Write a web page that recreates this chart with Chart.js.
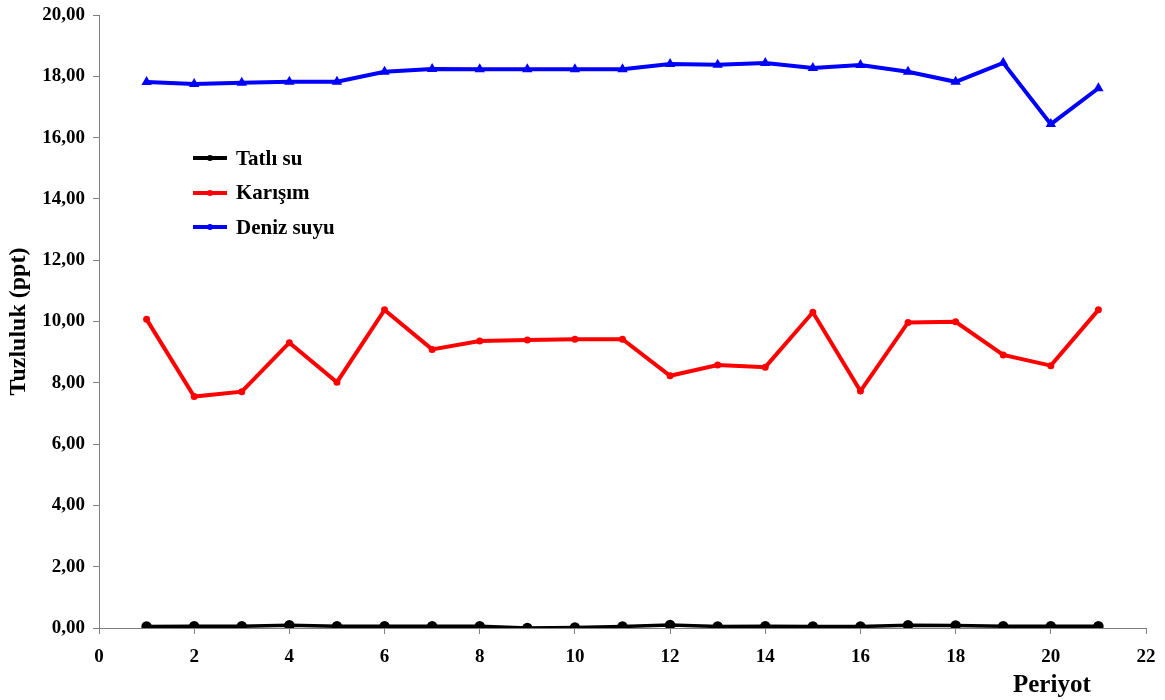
<!DOCTYPE html>
<html>
<head>
<meta charset="utf-8">
<script src="https://cdn.jsdelivr.net/npm/chart.js@4/dist/chart.umd.min.js"></script>
<style>
  html, body { margin: 0; padding: 0; background: #fff; }
  #wrap { position: relative; width: 1165px; height: 700px; }
  canvas { position: absolute; left: 0; top: 0; }
  #legend { position: absolute; left: 193px; top: 141px; font-family: "Liberation Serif", serif; font-weight: bold; font-size: 21px; color: #000; }
  #legend .item { display: flex; align-items: center; height: 34.5px; }
  #legend .sw { position: relative; width: 34px; height: 4px; margin-right: 9px; }
  #legend .dot { position: absolute; left: 14px; top: -1px; width: 6px; height: 6px; border-radius: 50%; }
  #xtitle { position: absolute; left: 1013px; top: 670px; font-family: "Liberation Serif", serif; font-weight: bold; font-size: 25px; color: #000; }
</style>
</head>
<body>
<div id="wrap">
  <canvas id="c" width="1165" height="700"></canvas>
  <div id="legend"></div>
  <div id="xtitle">Periyot</div>
</div>
<script>
const periods = [1,2,3,4,5,6,7,8,9,10,11,12,13,14,15,16,17,18,19,20,21];
const seriesNames = ["Tatlı su", "Karışım", "Deniz suyu"];
const tatliSu = [0.05,0.06,0.06,0.09,0.06,0.06,0.06,0.06,0.00,0.02,0.05,0.10,0.05,0.06,0.05,0.05,0.09,0.08,0.06,0.06,0.06];
const karisim = [10.07,7.55,7.71,9.31,8.02,10.38,9.09,9.36,9.40,9.42,9.42,8.23,8.58,8.51,10.30,7.73,9.97,9.99,8.91,8.56,10.38];
const denizSuyu = [17.81,17.75,17.79,17.82,17.82,18.15,18.24,18.23,18.23,18.23,18.23,18.40,18.38,18.43,18.27,18.37,18.15,17.82,18.44,16.44,17.61];
const yTickLabels = ["0,00","2,00","4,00","6,00","8,00","10,00","12,00","14,00","16,00","18,00","20,00"];

const colors = ["#000000", "#ff0000", "#0000ff"];
const toXY = arr => arr.map((v, i) => ({x: periods[i], y: v}));
const fontFam = '"Liberation Serif", "Times New Roman", serif';

const datasets = [
  { label: seriesNames[0], data: toXY(tatliSu), borderColor: colors[0], backgroundColor: colors[0], borderWidth: 3.5, pointRadius: 3.5, pointStyle: 'circle' },
  { label: seriesNames[1], data: toXY(karisim), borderColor: colors[1], backgroundColor: colors[1], borderWidth: 4, pointRadius: 1.5, pointStyle: 'circle' },
  { label: seriesNames[2], data: toXY(denizSuyu), borderColor: colors[2], backgroundColor: colors[2], borderWidth: 4, pointRadius: 2, pointStyle: 'triangle' }
];

const lg = document.getElementById('legend');
datasets.forEach(d => {
  const it = document.createElement('div'); it.className = 'item';
  const sw = document.createElement('div'); sw.className = 'sw'; sw.style.background = d.borderColor;
  const dot = document.createElement('div'); dot.className = 'dot'; dot.style.background = d.borderColor;
  sw.appendChild(dot);
  const tx = document.createElement('span'); tx.textContent = d.label;
  it.appendChild(sw); it.appendChild(tx); lg.appendChild(it);
});

new Chart(document.getElementById('c'), {
  type: 'line',
  data: { datasets },
  options: {
    responsive: false,
    animation: false,
    layout: { padding: { left: 0, right: 19, top: 15, bottom: 0 } },
    plugins: { legend: { display: false }, tooltip: { enabled: false } },
    elements: { line: { tension: 0 } },
    scales: {
      x: {
        type: 'linear', min: 0, max: 22,
        afterFit: s => { s.height = 72; s.paddingLeft = 0; s.paddingRight = 0; },
        ticks: { stepSize: 2, color: '#000', font: { family: fontFam, weight: 'bold', size: 19 }, padding: 12, maxRotation: 0 },
        grid: { display: true, drawOnChartArea: false, drawTicks: true, tickLength: 6, color: '#808080' },
        border: { display: true, color: '#808080', width: 1 }
      },
      y: {
        min: 0, max: 20,
        afterFit: s => { s.width = 99; s.paddingTop = 0; s.paddingBottom = 0; },
        ticks: { stepSize: 2, color: '#000', font: { family: fontFam, weight: 'bold', size: 19 }, padding: 8,
                 callback: (v) => yTickLabels[Math.round(v / 2)] },
        grid: { display: true, drawOnChartArea: false, drawTicks: true, tickLength: 6, color: '#808080' },
        border: { display: true, color: '#808080', width: 1 },
        title: { display: true, text: 'Tuzluluk (ppt)', color: '#000', font: { family: fontFam, weight: 'bold', size: 24 }, padding: { top: 4, bottom: 0 } }
      }
    }
  }
});
</script>
</body>
</html>
